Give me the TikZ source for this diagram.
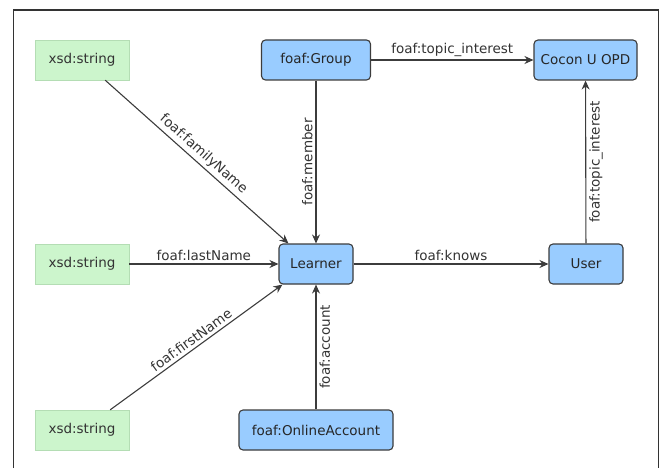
\documentclass[tikz,border=0pt]{standalone}
\usepackage{fontspec}
\setmainfont{DejaVu Sans}
\usetikzlibrary{arrows,arrows.meta}

\definecolor{classblue}{HTML}{99CCFF}
\definecolor{literalgreen}{HTML}{CCF5CC}
\definecolor{literalborder}{HTML}{B4DDB4}
\definecolor{edgegray}{HTML}{3C3C3C}

\begin{document}
\begin{tikzpicture}[x=1pt, y=-1pt, font=\fontsize{13.5}{15}\selectfont]
%% the figure uses pixel units of the original drawing (y grows downwards)
%% arrows are straight, labels sit on the arcs (sloped where the arc is skewed)
%% vertical labels read upwards, so they are turned by 90 degrees by hand
\tikzstyle{arc}=[->,>={Stealth[length=9pt,width=8pt]},line width=1.1pt,draw=edgegray]
\tikzstyle{classnode}=[draw=edgegray,line width=1.1pt,fill=classblue,rounded corners=4pt,minimum height=40pt,inner xsep=3pt,text=black!85]
\tikzstyle{literalnode}=[draw=literalborder,fill=literalgreen,minimum width=94pt,minimum height=40pt,text=black!80]
\tikzstyle{arclabel}=[text=black!80,inner sep=3pt]
\useasboundingbox (0,0) rectangle (660,468);
%% frame
\draw[line width=1.3pt,draw=black!80] (13.5,468) -- (13.5,10) -- (658.5,10) -- (658.5,468);
%% TikZ-figure elements %%
\node[literalnode] at (82,60) (Str1) {xsd:string};
\node[literalnode] at (82,264) (Str2) {xsd:string};
\node[literalnode] at (82,430) (Str3) {xsd:string};
\node[classnode,minimum width=109pt] at (316,60) (Group) {foaf:Group};
\node[classnode,minimum width=103pt,inner xsep=1pt] at (585.5,60) (Cocon) {Cocon U OPD};
\node[classnode,minimum width=74pt] at (316,264) (Learner) {Learner};
\node[classnode,minimum width=74pt] at (586,264) (User) {User};
\node[classnode,minimum width=154pt] at (316,430) (Account) {foaf:OnlineAccount};
%% arcs into Learner
\draw[arc] (Str1.south east) ++(-24,0) to[bend right=0] node[arclabel,sloped,above,pos=0.5] (lblFamily) {foaf:familyName} ([xshift=10pt]Learner.north west);
\draw[arc] (Str2) to[bend right=0] node[arclabel,above] (lblLast) {foaf:lastName} (Learner);
\draw[arc] (Str3.north east) ++(-19,0) to[bend right=0] node[arclabel,sloped,above,pos=0.5] (lblFirst) {foaf:firstName} ([xshift=4pt]Learner.south west);
\draw[arc] (Group) to[bend right=0] node[arclabel,rotate=90,anchor=south,pos=0.5] (lblMember) {foaf:member} (Learner);
\draw[arc] (Account) to[bend right=0] node[arclabel,rotate=90,anchor=north,pos=0.5] (lblAccount) {foaf:account} (Learner);
%% remaining arcs
\draw[arc] (Learner) to[bend right=0] node[arclabel,above,pos=0.5] (lblKnows) {foaf:knows} (User);
\draw[arc] (Group) to[bend right=0] node[arclabel,above,pos=0.5] (lblGroupTopic) {foaf:topic\_interest} (Cocon);
\draw[arc] (User) to[bend right=0] node[arclabel,rotate=90,anchor=north,pos=0.5] (lblUserTopic) {foaf:topic\_interest} (Cocon);
\end{tikzpicture}
\end{document}
